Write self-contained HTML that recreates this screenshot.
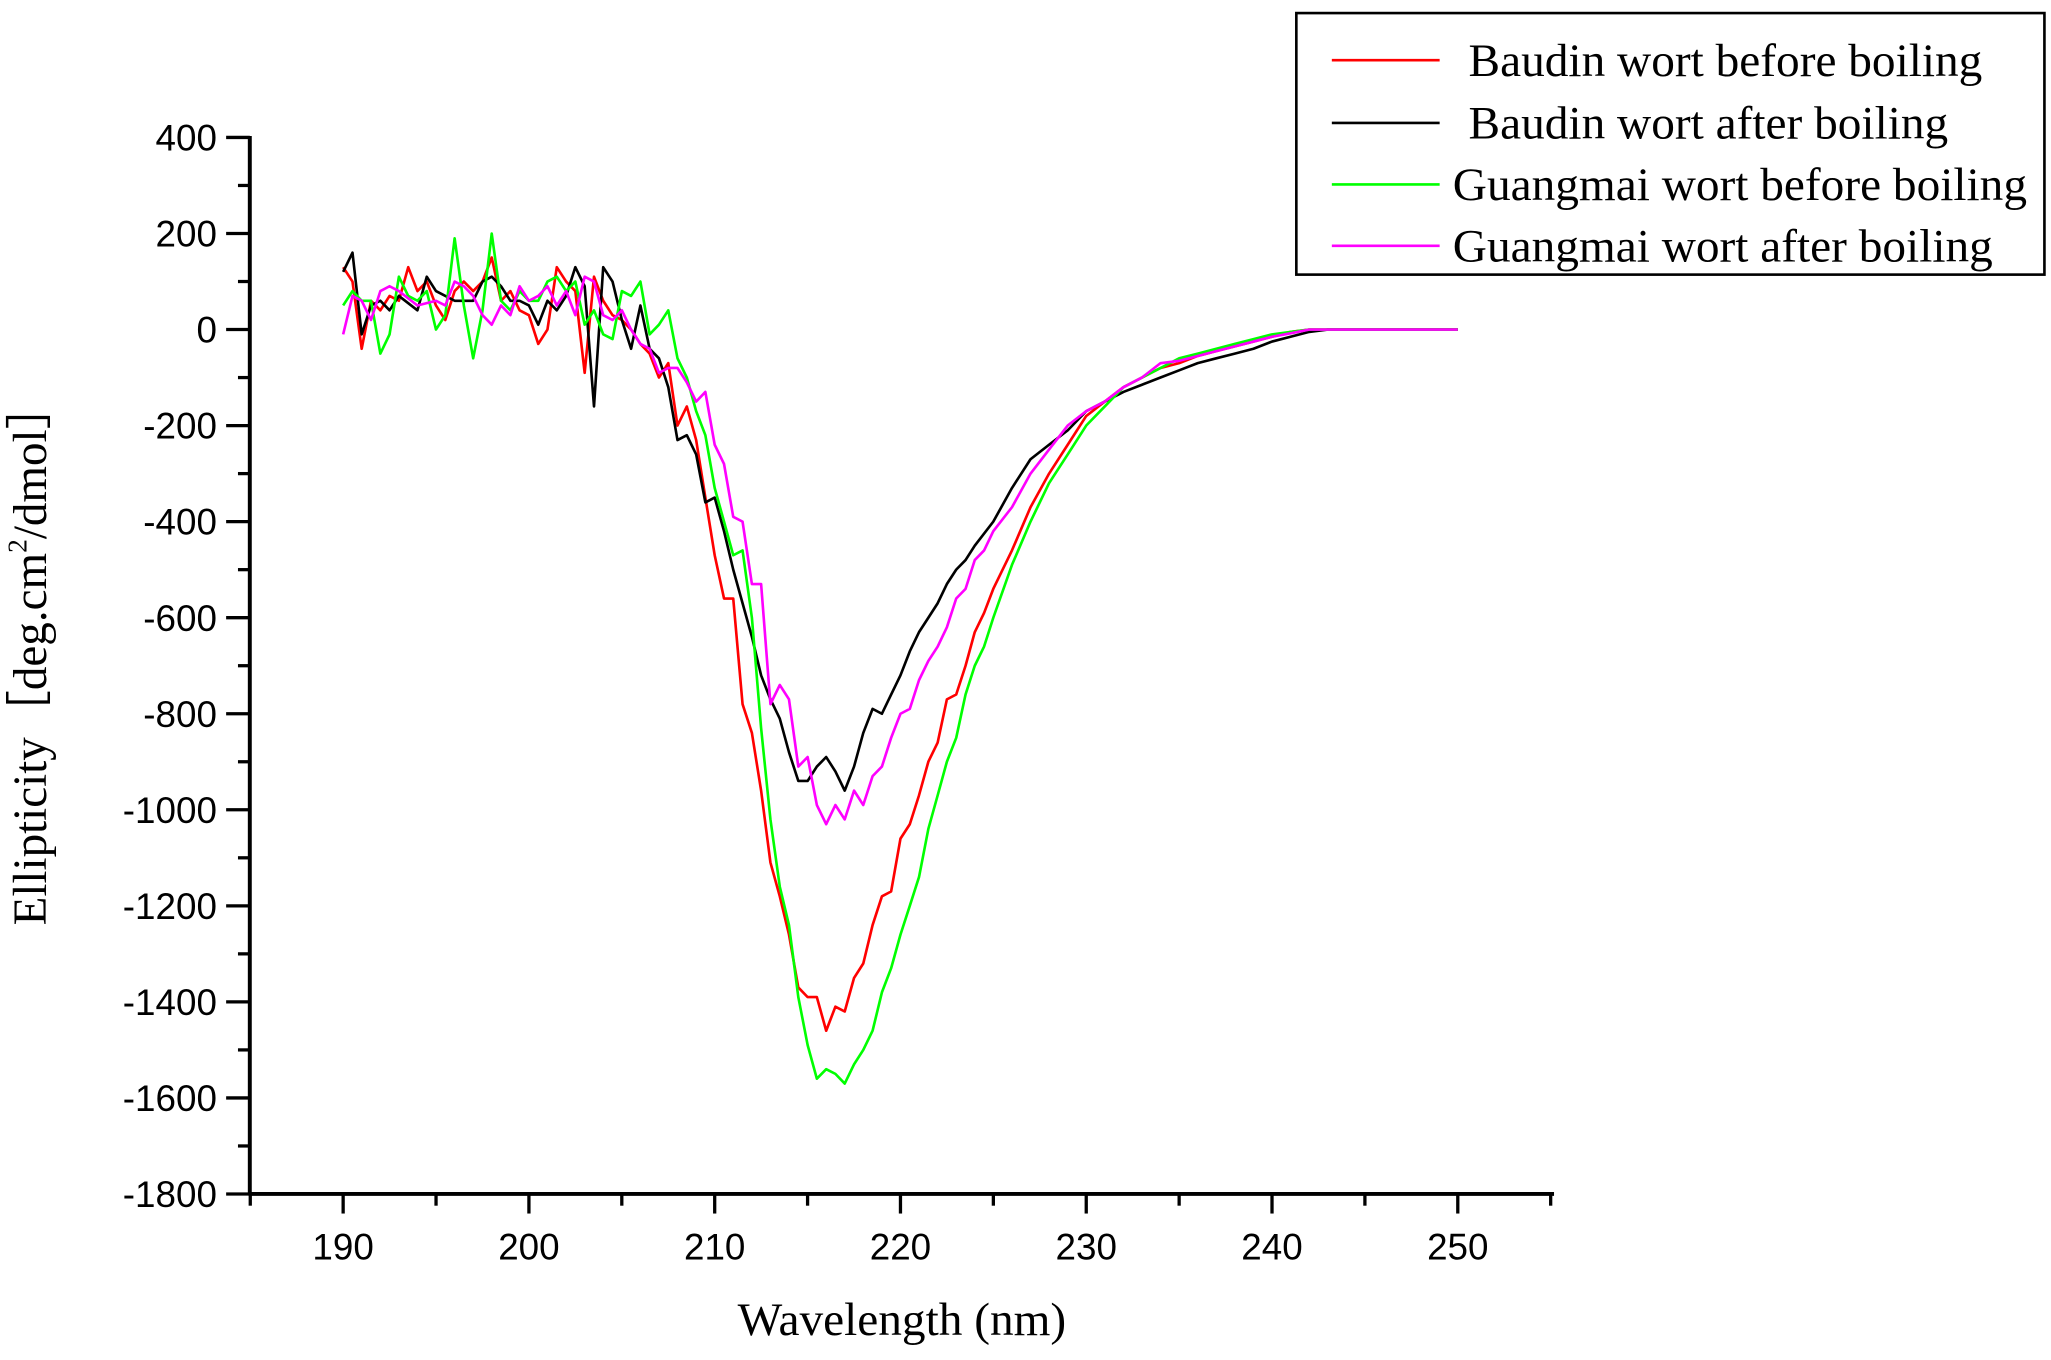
<!DOCTYPE html>
<html><head><meta charset="utf-8"><style>
html,body{margin:0;padding:0;background:#fff;}
svg{display:block;}
.t{font-family:"Liberation Sans",Arial,sans-serif;font-size:28px;fill:#000;}
.s{font-family:"Liberation Serif","Times New Roman",serif;fill:#000;}
</style></head><body>
<svg id="c" width="2051" height="1360" viewBox="0 0 1560 1040" preserveAspectRatio="none" xmlns="http://www.w3.org/2000/svg">
<rect x="0" y="0" width="1560" height="1040" fill="#fff"/>
<g id="ax" stroke="#000" stroke-width="3" fill="none">
<line x1="190" y1="104" x2="190" y2="914"/>
<line x1="189" y1="913" x2="1182" y2="913"/>
</g>
<g id="ticks" stroke="#000" stroke-width="2.5"></g>
<g id="labels"></g>
<g id="series" fill="none" stroke-width="2" stroke-linejoin="round"></g>
<text class="s" x="686" y="1021" font-size="36" text-anchor="middle">Wavelength (nm)</text>
<text class="s" font-size="36" text-anchor="middle" transform="translate(35,500) rotate(-90)">Ellipticity［deg.cm<tspan font-size="21" dy="-15">2</tspan><tspan dy="15">/dmol］</tspan></text>
<rect x="986" y="10" width="569" height="200" fill="#fff" stroke="#000" stroke-width="2"/>
<line x1="1013" y1="46" x2="1095" y2="46" stroke="#f00" stroke-width="2"/>
<line x1="1013" y1="94" x2="1095" y2="94" stroke="#000" stroke-width="2"/>
<line x1="1013" y1="141" x2="1095" y2="141" stroke="#0f0" stroke-width="2"/>
<line x1="1013" y1="188" x2="1095" y2="188" stroke="#f0f" stroke-width="2"/>
<text class="s" font-size="36" x="1117" y="58">Baudin wort before boiling</text>
<text class="s" font-size="36" x="1117" y="106">Baudin wort after boiling</text>
<text class="s" font-size="36" x="1105" y="153">Guangmai wort before boiling</text>
<text class="s" font-size="36" x="1105" y="200">Guangmai wort after boiling</text>
</svg>
<script>
var NS="http://www.w3.org/2000/svg";
function X(n){return 261+(n-190)*14.13;}
function Y(v){return 252-v*0.36725;}
var tk=document.getElementById('ticks'),lb=document.getElementById('labels');
function ln(x1,y1,x2,y2){var l=document.createElementNS(NS,'line');l.setAttribute('x1',x1);l.setAttribute('y1',y1);l.setAttribute('x2',x2);l.setAttribute('y2',y2);tk.appendChild(l);}
function tx(x,y,s,a){var t=document.createElementNS(NS,'text');t.setAttribute('class','t');t.setAttribute('x',x);t.setAttribute('y',y);t.setAttribute('text-anchor',a);t.textContent=s;lb.appendChild(t);}
for(var v=-1800;v<=400;v+=100){var y=Y(v);if(v%200==0){ln(172,y,190,y);tx(165,y+10,String(v),'end');}else ln(181,y,190,y);}
for(var n=185;n<=255;n+=5){var x=X(n);if(n%10==0){ln(x,913,x,928);tx(x,963,String(n),'middle');}else ln(x,913,x,922);}
var D={
"#f00":"190:130,190.5:100,191:-40,191.5:60,192:40,192.5:70,193:60,193.5:130,194:80,194.5:100,195:50,195.5:20,196:80,196.5:100,197:80,197.5:100,198:150,198.5:60,199:80,199.5:40,200:30,200.5:-30,201:0,201.5:130,202:100,202.5:80,203:-90,203.5:110,204:60,204.5:30,205:20,205.5:0,206:-30,206.5:-50,207:-100,207.5:-70,208:-200,208.5:-160,209:-230,209.5:-350,210:-470,210.5:-560,211:-560,211.5:-780,212:-840,212.5:-960,213:-1110,213.5:-1180,214:-1260,214.5:-1370,215:-1390,215.5:-1390,216:-1460,216.5:-1410,217:-1420,217.5:-1350,218:-1320,218.5:-1240,219:-1180,219.5:-1170,220:-1060,220.5:-1030,221:-970,221.5:-900,222:-860,222.5:-770,223:-760,223.5:-700,224:-630,224.5:-590,225:-540,226:-460,227:-370,228:-300,229:-240,230:-180,231:-150,232:-120,233:-100,234:-80,235:-70,236:-55,237:-45,238:-35,239:-25,240:-15,241:-5,242:0,250:0",
"#000":"190:120,190.5:160,191:-10,191.5:50,192:60,192.5:40,193:70,194:40,194.5:110,195:80,196:60,197:60,197.5:100,198:110,198.5:90,199:60,199.5:60,200:50,200.5:10,201:60,201.5:40,202:70,202.5:130,203:90,203.5:-160,204:130,204.5:100,205:20,205.5:-40,206:50,206.5:-40,207:-60,207.5:-120,208:-230,208.5:-220,209:-260,209.5:-360,210:-350,210.5:-420,211:-500,211.5:-570,212:-640,212.5:-720,213:-770,213.5:-810,214:-880,214.5:-940,215:-940,215.5:-910,216:-890,216.5:-920,217:-960,217.5:-910,218:-840,218.5:-790,219:-800,219.5:-760,220:-720,220.5:-670,221:-630,221.5:-600,222:-570,222.5:-530,223:-500,223.5:-480,224:-450,225:-400,226:-330,227:-270,228:-240,229:-210,230:-170,231:-150,232:-130,233:-115,234:-100,235:-85,236:-70,237:-60,238:-50,239:-40,240:-25,241:-15,242:-5,243:0,250:0",
"#0f0":"190:50,190.5:80,191:60,191.5:60,192:-50,192.5:-10,193:110,193.5:70,194:60,194.5:80,195:0,195.5:30,196:190,196.5:50,197:-60,197.5:40,198:200,198.5:60,199:40,199.5:80,200:60,200.5:60,201:100,201.5:110,202:80,202.5:100,203:10,203.5:40,204:-10,204.5:-20,205:80,205.5:70,206:100,206.5:-10,207:10,207.5:40,208:-60,208.5:-100,209:-170,209.5:-220,210:-330,210.5:-400,211:-470,211.5:-460,212:-600,212.5:-830,213:-1020,213.5:-1160,214:-1240,214.5:-1390,215:-1490,215.5:-1560,216:-1540,216.5:-1550,217:-1570,217.5:-1530,218:-1500,218.5:-1460,219:-1380,219.5:-1330,220:-1260,220.5:-1200,221:-1140,221.5:-1040,222:-970,222.5:-900,223:-850,223.5:-760,224:-700,224.5:-660,225:-600,226:-490,227:-400,228:-320,229:-260,230:-200,231:-160,232:-120,233:-100,234:-80,235:-60,236:-50,237:-40,238:-30,239:-20,240:-10,241:-5,242:0,250:0",
"#f0f":"190:-10,190.5:70,191:60,191.5:20,192:80,192.5:90,193:80,194:50,195:60,195.5:50,196:100,196.5:90,197:70,197.5:30,198:10,198.5:50,199:30,199.5:90,200:60,200.5:70,201:90,201.5:50,202:80,202.5:30,203:110,203.5:100,204:30,204.5:20,205:40,205.5:0,206:-30,206.5:-40,207:-90,207.5:-80,208:-80,208.5:-110,209:-150,209.5:-130,210:-240,210.5:-280,211:-390,211.5:-400,212:-530,212.5:-530,213:-780,213.5:-740,214:-770,214.5:-910,215:-890,215.5:-990,216:-1030,216.5:-990,217:-1020,217.5:-960,218:-990,218.5:-930,219:-910,219.5:-850,220:-800,220.5:-790,221:-730,221.5:-690,222:-660,222.5:-620,223:-560,223.5:-540,224:-480,224.5:-460,225:-420,226:-370,227:-300,228:-250,229:-200,230:-170,231:-150,232:-120,233:-100,234:-70,235:-65,236:-55,237:-45,238:-35,239:-25,240:-15,241:-8,242:0,250:0"};
var sg=document.getElementById('series');
for(var c in D){var pts=D[c].split(',').map(function(p){var a=p.split(':');return X(+a[0]).toFixed(1)+','+Y(+a[1]).toFixed(1);}).join(' ');
var pl=document.createElementNS(NS,'polyline');pl.setAttribute('points',pts);pl.setAttribute('stroke',c);sg.appendChild(pl);}
</script>
</body></html>
